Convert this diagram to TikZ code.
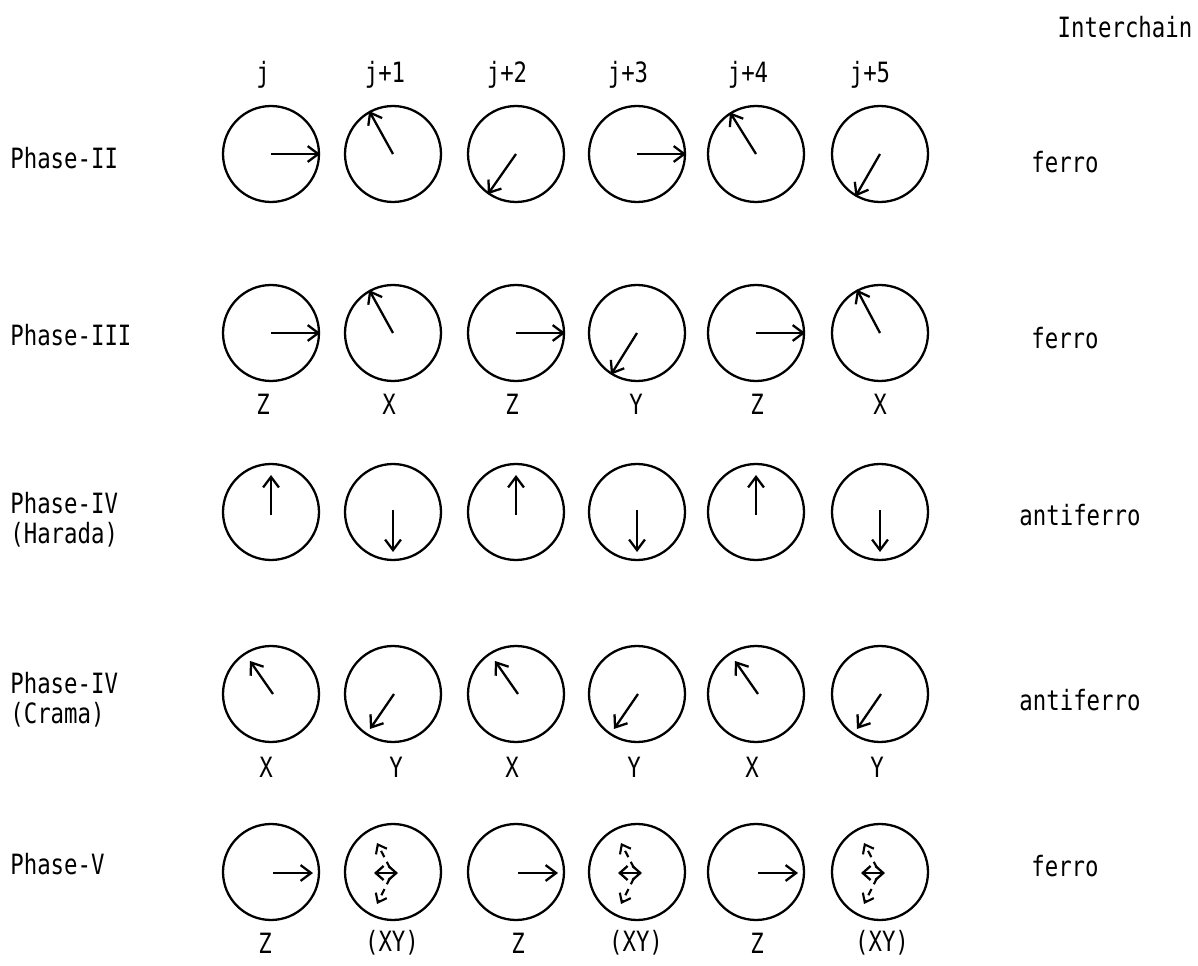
\documentclass[tikz,border=0pt]{standalone}
\usepackage{fontspec}
\setmainfont{DejaVu Sans Mono}[FakeStretch=0.8]
\usetikzlibrary{arrows.meta,calc}
\begin{document}
\begin{tikzpicture}[x=0.02cm,y=-0.02cm,
  spin/.style={circle,draw,line width=1.3pt,minimum size=1.92cm,inner sep=0pt},
  vec/.style={line width=1.3pt,-{Straight Barb[length=6pt,width=9pt,line width=1.3pt]}},
  dvec/.style={line width=1.3pt,{Straight Barb[length=4.5pt,width=8pt,line width=1.3pt]}-{Straight Barb[length=4.5pt,width=8pt,line width=1.3pt]}},
  xvec/.style={line width=1.2pt,dash pattern=on 4pt off 3pt,-{Straight Barb[length=4.5pt,width=7pt,line width=1.2pt]}},
  lbl/.style={font=\fontsize{15.9pt}{17pt}\selectfont,inner sep=0pt},
  phase/.style={lbl,anchor=west,align=left,font=\fontsize{15.9pt}{17pt}\selectfont}]
\useasboundingbox (0,0) rectangle (1198,966);

% header
\node[lbl] (hint) at (1125,27) {Interchain};
\node[lbl] (h1) at (263,75) {j};
\node[lbl] (h2) at (385,75) {j+1};
\node[lbl] (h3) at (507,75) {j+2};
\node[lbl] (h4) at (628,75) {j+3};
\node[lbl] (h5) at (748,75) {j+4};
\node[lbl] (h6) at (870,75) {j+5};

% circles
\foreach \r/\y in {1/154,2/333,3/512,4/694,5/872}
  \foreach \c/\x in {1/271,2/393,3/516,4/637,5/756,6/880}
    \node[spin] (c\r\c) at (\x,\y) {};

% phase labels
\node[phase] (p1) at (10,158) {Phase-II};
\node[phase] (p2) at (10,335) {Phase-III};
\node[phase] (p3) at (10,520) {Phase-IV\\(Harada)};
\node[phase] (p4) at (10,700) {Phase-IV\\(Crama)};
\node[phase] (p5) at (10,864) {Phase-V};

% right labels
\node[lbl] (r1) at (1065,162) {ferro};
\node[lbl] (r2) at (1065,338) {ferro};
\node[lbl] (r3) at (1080,515) {antiferro};
\node[lbl] (r4) at (1080,700) {antiferro};
\node[lbl] (r5) at (1065,866) {ferro};

% Row 1
\draw[vec] (c11.center) -- (c11.east);
\draw[vec] (c12.center) -- (c12.119);
\draw[vec] (c13.center) -- (c13.235);
\draw[vec] (c14.center) -- (c14.east);
\draw[vec] (c15.center) -- (c15.122);
\draw[vec] (c16.center) -- (c16.240);

% Row 2
\draw[vec] (c21.center) -- (c21.east);
\draw[vec] (c22.center) -- (c22.119);
\draw[vec] (c23.center) -- (c23.east);
\draw[vec] (c24.center) -- (c24.238);
\draw[vec] (c25.center) -- (c25.east);
\draw[vec] (c26.center) -- (c26.118);
\foreach \c/\x/\t in {1/263/Z,2/389/X,3/512/Z,4/636/Y,5/757/Z,6/880/X}
  \node[lbl] (l2\c) at (\x,404) {\t};

% Row 3
\foreach \c in {1,3,5}
  \draw[vec] ($(c3\c.center)+(0,3)$) -- ($(c3\c.center)+(0,-37)$);
\foreach \c in {2,4,6}
  \draw[vec] ($(c3\c.center)+(0,-2)$) -- ($(c3\c.center)+(0,40)$);

% Row 4
\foreach \c in {1,3,5}
  \draw[vec] ($(c4\c.center)+(2,0)$) -- ($(c4\c.center)+(-21,-33)$);
\foreach \c in {2,4,6}
  \draw[vec] ($(c4\c.center)+(1,0)$) -- ($(c4\c.center)+(-23,35)$);
\foreach \c/\x/\t in {1/266/X,2/396/Y,3/512/X,4/634/Y,5/752/X,6/877/Y}
  \node[lbl] (l4\c) at (\x,767) {\t};

% Row 5
\foreach \c in {1,3,5}
  \draw[vec] ($(c5\c.center)+(2,1)$) -- ($(c5\c.center)+(42,1)$);
\foreach \c in {2,4,6}{
  \draw[dvec] ($(c5\c.center)+(-19,1)$) -- ($(c5\c.center)+(5,1)$);
  \draw[xvec] ($(c5\c.center)+(-3,-4)$) -- ($(c5\c.center)+(-16,-29)$);
  \draw[xvec] ($(c5\c.center)+(-3,6)$) -- ($(c5\c.center)+(-16,32)$);
}
\foreach \c/\x/\t in {1/265/Z,2/392/(XY),3/518/Z,4/636/(XY),5/757/Z,6/882/(XY)}
  \node[lbl] (l5\c) at (\x,943) {\t};
\end{tikzpicture}
\end{document}
